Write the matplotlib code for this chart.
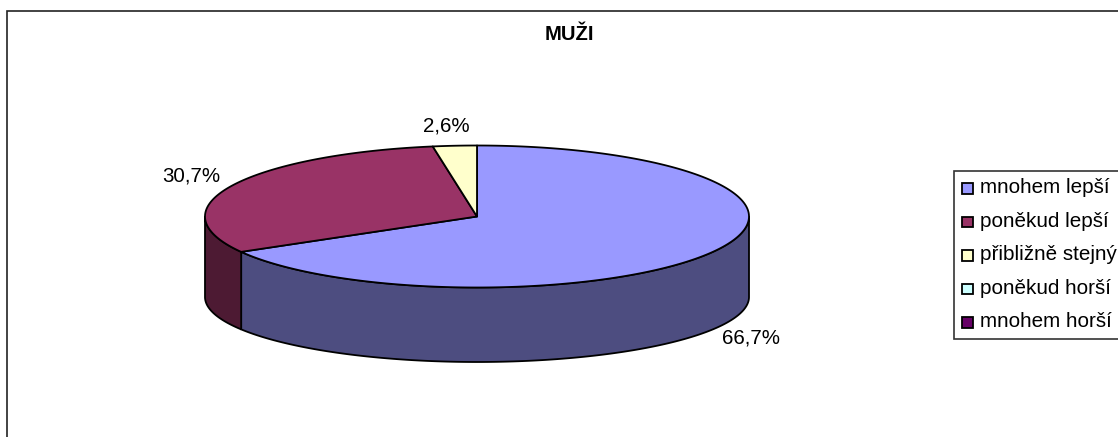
import numpy as np
import matplotlib
matplotlib.use("Agg")
import matplotlib.pyplot as plt
from matplotlib.patches import Rectangle

categories = ["mnohem lepší", "poněkud lepší", "přibližně stejný", "poněkud horší", "mnohem horší"]
values = [66.7, 30.7, 2.6, 0.0, 0.0]
top_colors = ["#9999FF", "#993366", "#FFFFCC", "#CCFFFF", "#660066"]
side_colors = ["#4D4D80", "#4D1A33", "#808066", "#668080", "#330033"]

plt.rcParams["font.family"] = ["Liberation Sans", "DejaVu Sans"]

# ellipse of the top face and of the bottom rim, in pixels
CX, CY, RX, RY = 477, 216.5, 272, 71
BOTTOM_CY, BOTTOM_RY = 297, 65
LW = 1.3


def rim(a, b, cy, ry):
    # a, b are degrees clockwise from 12 o'clock
    t = np.radians(np.linspace(a, b, max(int(abs(b - a)) * 2, 2)))
    return CX + RX * np.sin(t), cy - ry * np.cos(t)


fig = plt.figure(figsize=(11.18, 4.37), dpi=100)
ax = fig.add_axes([0, 0, 1, 1])
ax.set_xlim(0, 1118)
ax.set_ylim(437, 0)
ax.axis("off")

# chart area border, runs off the right and bottom edges
ax.plot([6.5, 6.5, 1130], [445, 10.5, 10.5], color="#222222", lw=1.2, solid_joinstyle="miter", clip_on=False)

edges = np.cumsum([0] + values) * 3.6

# side walls, only the front half of the rim is visible
for i in range(len(values)):
    a, b = max(edges[i], 90), min(edges[i + 1], 270)
    if b <= a:
        continue
    x1, y1 = rim(a, b, CY, RY)
    x2, y2 = rim(b, a, BOTTOM_CY, BOTTOM_RY)
    ax.fill(np.r_[x1, x2], np.r_[y1, y2], facecolor=side_colors[i], edgecolor="black", lw=LW, zorder=2)

# top face
for i in range(len(values)):
    if values[i] <= 0:
        continue
    x, y = rim(edges[i], edges[i + 1], CY, RY)
    ax.fill(np.r_[CX, x], np.r_[CY, y], facecolor=top_colors[i], edgecolor="black", lw=LW,
            joinstyle="round", zorder=4)

# percent labels
label_pos = [(751, 337.5), (191, 176), (446.5, 126)]
for v, (lx, ly) in zip(values[:3], label_pos):
    txt = f"{v:.1f}".replace(".", ",") + "%"
    ax.text(lx, ly, txt, ha="center", va="center", fontsize=14.8, color="black", zorder=5)

ax.text(569, 35, "MUŽI", ha="center", va="center", fontsize=14.6, fontweight="bold", color="black")

# legend box, cut off by the right edge
ax.add_patch(Rectangle((954, 170.5), 200, 168, facecolor="white", edgecolor="#333333", lw=1.2, zorder=5))
ys = 188 + np.arange(len(categories)) * 33.6
for name, c, yy in zip(categories, top_colors, ys):
    ax.add_patch(Rectangle((962, yy - 5), 11, 10.5, facecolor=c, edgecolor="black", lw=1.3, zorder=6))
    ax.text(980, yy - 0.5, name, ha="left", va="center", fontsize=14.9, color="black", zorder=6)

fig.savefig("out.png", dpi=100, facecolor="white")
